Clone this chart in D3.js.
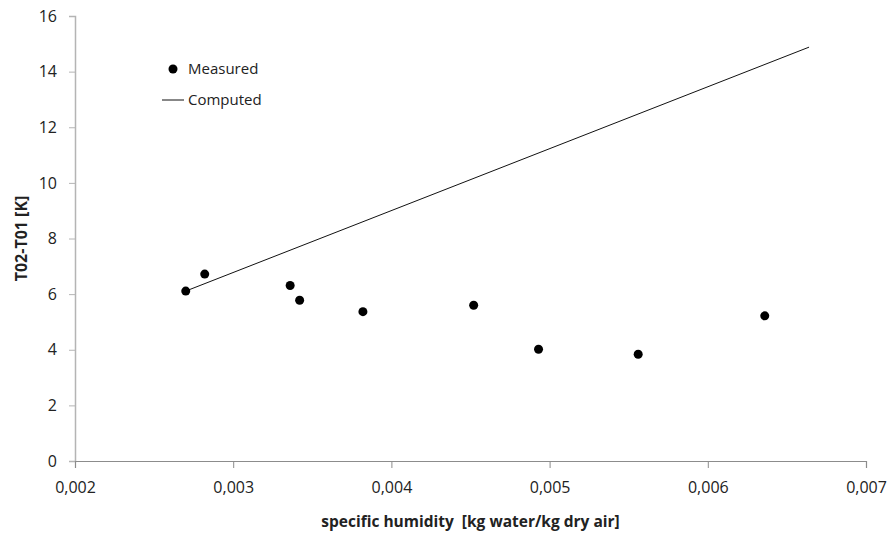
<!DOCTYPE html>
<html>
<head>
<meta charset="utf-8">
<script src="https://cdn.jsdelivr.net/npm/d3@7"></script>
<style>
  body { margin: 0; background: #fff; }
  svg text { font-family: "Open Sans", sans-serif; fill: #222; }
</style>
</head>
<body>
<div class="graph"></div>
<script>
// measured points (specific humidity, T02-T01)
var measuredX = [0.00270, 0.00282, 0.00336, 0.00342, 0.00382, 0.00452, 0.00493, 0.00556, 0.00636];
var measuredY = [6.11, 6.72, 6.31, 5.78, 5.37, 5.60, 4.02, 3.84, 5.22];

// computed line, end points
var computedX = [0.00270, 0.00664];
var computedY = [6.11, 14.88];

var xTicks = [0.002, 0.003, 0.004, 0.005, 0.006, 0.007];
var yTicks = [0, 2, 4, 6, 8, 10, 12, 14, 16];

var legendLabels = ["Measured", "Computed"];

var margin = {top: 16, right: 22, bottom: 74, left: 75},
    width = 888 - margin.left - margin.right,
    height = 535 - margin.top - margin.bottom;

var x = d3.scaleLinear().domain([0.002, 0.007]).range([0, width]);
var y = d3.scaleLinear().domain([0, 16]).range([height, 0]);

var svg = d3.select("div.graph").append("svg")
    .attr("width", 888)
    .attr("height", 535)
  .append("g")
    .attr("transform", "translate(" + margin.left + "," + margin.top + ")");

// y axis
var yAxis = svg.append("g")
    .call(d3.axisLeft(y).tickValues(yTicks).tickSize(6).tickPadding(12)
      .tickFormat(function(d) { return d; }));
yAxis.select(".domain").attr("stroke", "#b4b4b4").attr("stroke-width", 1.5);
yAxis.selectAll(".tick line").attr("stroke", "#b4b4b4");
yAxis.selectAll(".tick text").style("font-size", "16px");

// x axis
var xAxis = svg.append("g")
    .attr("transform", "translate(0," + height + ")")
    .call(d3.axisBottom(x).tickValues(xTicks).tickSize(7).tickPadding(14)
      .tickFormat(function(d) { return d3.format(".3f")(d).replace(".", ","); }));
xAxis.select(".domain").attr("stroke", "#8c8c8c").attr("stroke-width", 1.2);
xAxis.selectAll(".tick line").attr("stroke", "#8c8c8c");
xAxis.selectAll(".tick text").style("font-size", "16px");

// computed line
var line = d3.line()
    .x(function(d) { return x(d[0]); })
    .y(function(d) { return y(d[1]); });

svg.append("path")
    .datum(d3.zip(computedX, computedY))
    .attr("fill", "none")
    .attr("stroke", "#111")
    .attr("stroke-width", 1)
    .attr("d", line);

// measured dots
svg.selectAll("circle.dot")
    .data(d3.zip(measuredX, measuredY))
  .enter().append("circle")
    .attr("class", "dot")
    .attr("r", 4.5)
    .attr("cx", function(d) { return x(d[0]); })
    .attr("cy", function(d) { return y(d[1]); })
    .attr("fill", "#000");

// legend
var legend = svg.append("g").attr("transform", "translate(87,53)");
legend.append("circle").attr("cx", 11).attr("cy", 0).attr("r", 4.5).attr("fill", "#000");
legend.append("line").attr("x1", 0).attr("x2", 22).attr("y1", 31).attr("y2", 31)
    .attr("stroke", "#111").attr("stroke-width", 1);
legend.selectAll("text.leg")
    .data(legendLabels)
  .enter().append("text")
    .attr("class", "leg")
    .attr("x", 26)
    .attr("y", function(d, i) { return i * 31; })
    .attr("dy", "0.35em")
    .style("font-size", "15px")
    .text(function(d) { return d; });

// axis labels
svg.append("text")
    .attr("x", width / 2)
    .attr("y", height + 66)
    .style("text-anchor", "middle")
    .style("font-size", "15.5px")
    .style("font-weight", "bold")
    .style("white-space", "pre")
    .text("specific humidity  [kg water/kg dry air]");

svg.append("text")
    .attr("transform", "rotate(-90)")
    .attr("x", -height / 2)
    .attr("y", -48)
    .style("text-anchor", "middle")
    .style("font-size", "16px")
    .style("font-weight", "bold")
    .text("T02-T01 [K]");
</script>
</body>
</html>
